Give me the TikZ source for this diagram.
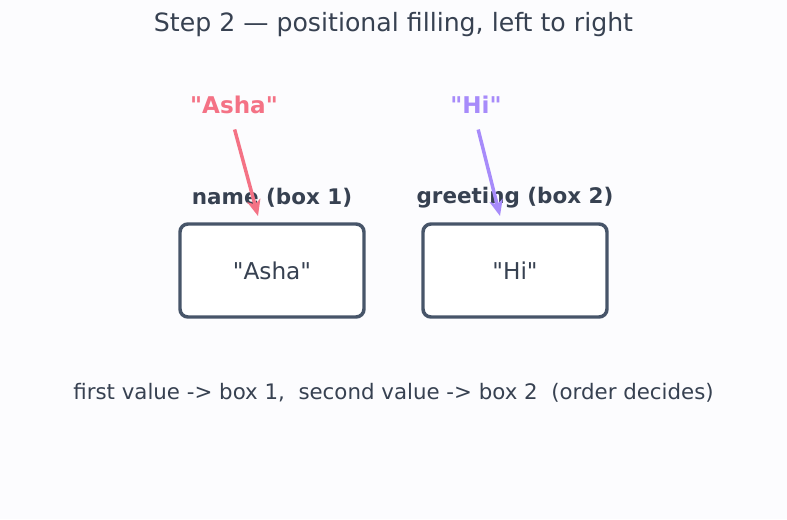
\documentclass[tikz,border=0pt]{standalone}
\usepackage{fontspec}
\setmainfont{DejaVu Sans}
\newfontfamily\plainsans{DejaVu Sans}
\usetikzlibrary{arrows.meta}
\definecolor{inkdark}{RGB}{55,65,81}
\definecolor{boxline}{RGB}{71,85,105}
\definecolor{rosepink}{RGB}{244,114,133}
\definecolor{violet}{RGB}{167,139,250}
\definecolor{paper}{RGB}{252,252,254}
\newcommand{\dq}{{\plainsans"}}
\tikzset{every picture/.style={line width=0.75pt}}
\tikzset{
  slotbox/.style={draw=boxline, fill=white, line width=2.6pt, rounded corners=6pt, minimum width=138pt, minimum height=69.75pt, inner sep=0pt},
  slotname/.style={text=inkdark, font=\bfseries\fontsize{16.1}{19}\selectfont, inner sep=0.75pt},
  slottext/.style={text=inkdark, font=\fontsize{17.4}{21}\selectfont, inner sep=0.75pt},
  valtext/.style={font=\bfseries\fontsize{17.3}{21}\selectfont, inner sep=0.75pt},
  feed/.style={line width=2.6pt, -{Stealth[length=12pt,width=10pt,inset=3pt]}}
}

\begin{document}
\begin{tikzpicture}[x=0.75pt,y=0.75pt,yscale=-1,xscale=1]
%set diagram canvas 787 x 519
\fill [paper] (0,0) rectangle (787,519);
\useasboundingbox (0,0) rectangle (787,519);

% Text Node
\node (title) at (393.5,25) [text=inkdark, font=\fontsize{18.9}{22}\selectfont, inner sep=0.75pt] {Step 2 — positional filling, left to right};

%Shape: Rectangle [box 1]
\node (boxA) at (272,270.5) [slotbox] {};
\node at (boxA) [slottext] {\dq Asha\dq};
%Shape: Rectangle [box 2]
\node (boxB) at (515,270.5) [slotbox] {};
\node at (boxB) [slottext] {\dq Hi\dq};

% Text Node
\node (nameA) at (272,198) [slotname] {name (box 1)};
% Text Node
\node (nameB) at (515,198) [slotname] {greeting (box 2)};

% Text Node
\node (valA) at (234,105) [valtext, text=rosepink] {\dq Asha\dq};
% Text Node
\node (valB) at (476,105) [valtext, text=violet] {\dq Hi\dq};

\coordinate (tipA) at (258,216);
\coordinate (tipB) at (500,216);
%Straight Lines
\draw [feed, rosepink, shorten <=19pt] ([xshift=-4.5pt]valA.center) -- (tipA);
%Straight Lines
\draw [feed, violet, shorten <=19pt] ([xshift=-3pt]valB.center) -- (tipB);

% Text Node
\node (note) at (393.5,393) [text=inkdark, font=\fontsize{16}{19}\selectfont, inner sep=0.75pt] {first value -> box 1,\ \ second value -> box 2\ \ (order decides)};

\end{tikzpicture}
\end{document}
